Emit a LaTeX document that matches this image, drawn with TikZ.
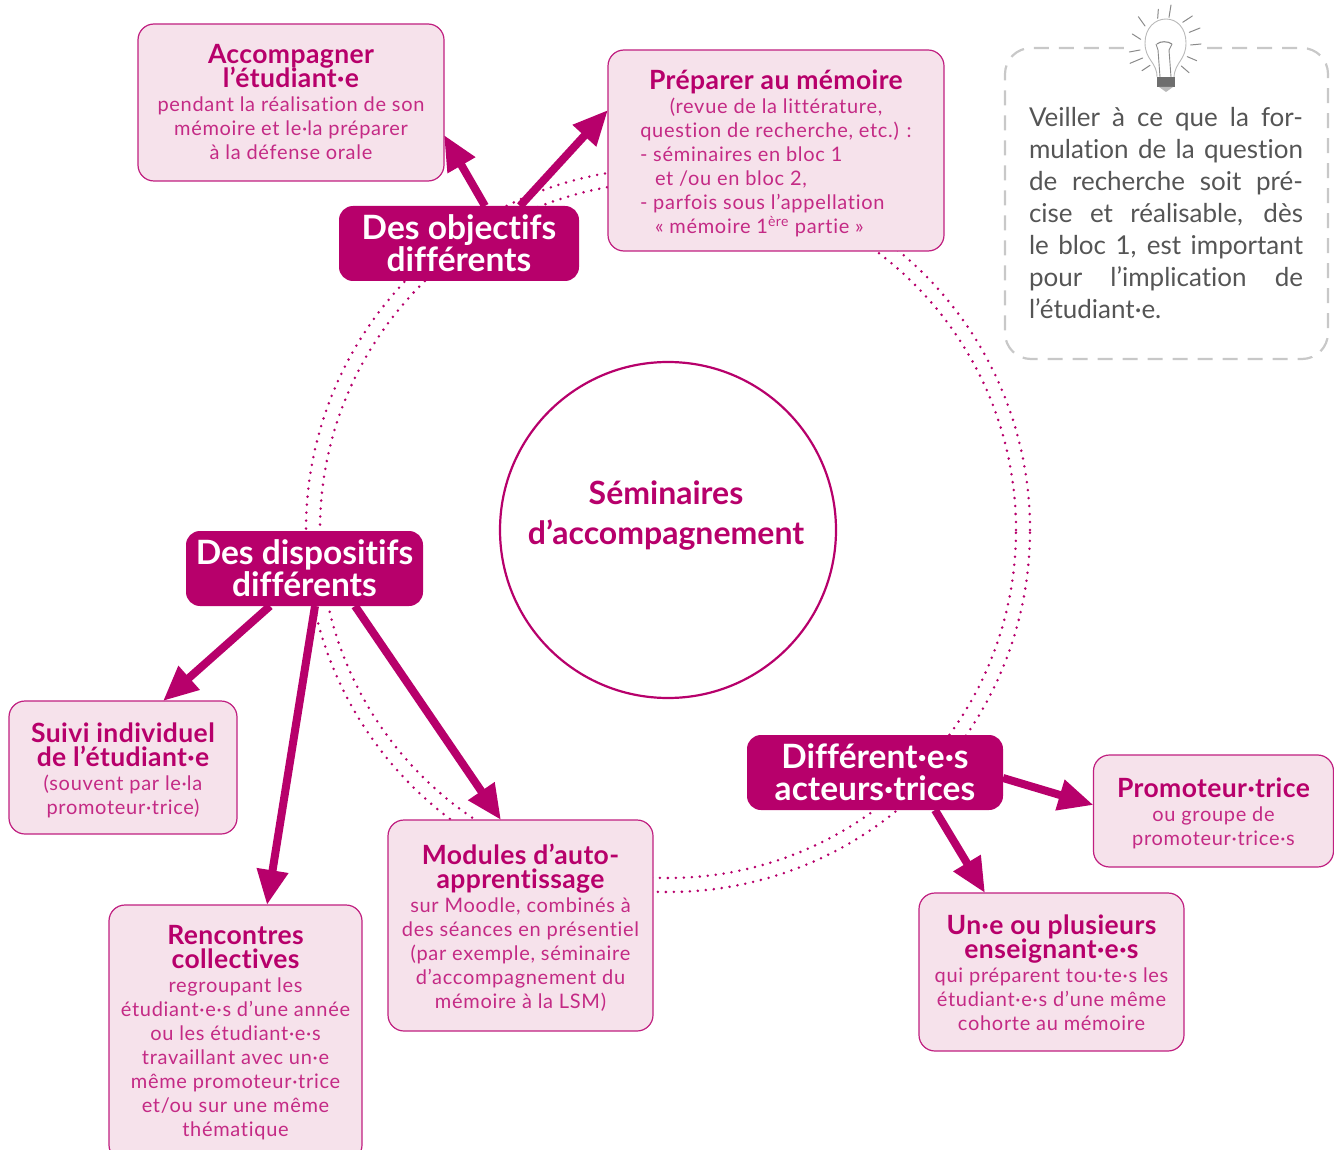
\documentclass[tikz,border=0pt]{standalone}
\usepackage{fontspec}
\setmainfont[Ligatures=NoCommon]{Lato}
\newfontfamily\bodyf[LetterSpace=3.5,Ligatures=NoCommon]{Lato}
\newfontfamily\titlef[LetterSpace=1.5,Ligatures=NoCommon]{Lato}
\usetikzlibrary{arrows.meta,calc}
\definecolor{mag}{HTML}{B7006B}
\definecolor{pale}{HTML}{F6E2EB}
\definecolor{boxedge}{HTML}{C01F80}
\definecolor{txt}{HTML}{C42A85}
\definecolor{ttlcol}{HTML}{B7006B}
\definecolor{notecol}{HTML}{555555}
\definecolor{notedash}{HTML}{C8C8C8}
\definecolor{bulbcol}{HTML}{8A8A8A}
\newcommand{\ttl}[1]{{\titlef\fontsize{26.5}{24}\bfseries\selectfont\color{ttlcol}#1}}
\newcommand{\tightlines}{\lineskiplimit=-30pt\relax}
\newcommand{\pushdown}[1]{\rule{0pt}{\dimexpr 20pt+2\dimexpr #1pt\relax\relax}}
\newcommand{\jline}[1]{\leavevmode\hbox to 274pt{\spaceskip=5pt plus 1fil\relax #1}}
\tikzset{
  x=1pt,y=-1pt,
  infobox/.style={draw=boxedge,fill=pale,line width=1.2pt,rounded corners=16pt,inner sep=0pt,outer sep=0pt,
    align=center,text=txt,font=\tightlines\bodyf\fontsize{20}{24}\selectfont},
  headbox/.style={fill=mag,rounded corners=14pt,inner sep=0pt,outer sep=0pt,align=center,text=white,
    font=\tightlines\fontsize{33.5}{32}\bfseries\selectfont},
  linkarrow/.style={draw=mag,line width=8pt,-{Triangle[length=35pt,width=30pt]}},
  ringline/.style={draw=mag,line width=2.8pt,line cap=round,dash pattern=on 0pt off 8pt},
  rayline/.style={draw=bulbcol,line width=1pt,line cap=round},
  notetext/.style={inner sep=0pt,outer sep=0pt,align=left,text=notecol,text width=274pt,
    font=\tightlines\fontsize{26}{32}\selectfont},
}
\begin{document}
\begin{tikzpicture}
\useasboundingbox (0,0) rectangle (1334,1150);
\clip (0,0) rectangle (1334,1150);
% rings
\draw[ringline] (668,530) circle[radius=348pt];
\draw[ringline] (668,530) circle[radius=362pt];
% central circle
\node[circle,draw=mag,line width=2.2pt,fill=white,minimum size=336pt,inner sep=0pt] (centre) at (668,530) {};
\node[align=center,text=mag,inner sep=0pt,
  font=\tightlines\fontsize{32}{40}\bfseries\selectfont] (centretitle) at (666,516) {Séminaires\\d’accompagnement};
% boxes
\node[infobox,minimum width=306pt,minimum height=157pt] (acc) at (291,102.5)
  {\ttl{Accompagner}\\\ttl{l’étudiant·e}\\pendant la réalisation de son\\mémoire et le·la préparer\\à la défense orale};
\node[infobox,minimum width=336pt,minimum height=201pt] (prep) at (776,150.5)
  {\pushdown{3}\ttl{Préparer au mémoire}\\(revue de la littérature,\\question de recherche, etc.) :\\
   \makebox[272pt][l]{- séminaires en bloc 1}\\\makebox[272pt][l]{\hspace{15pt}et /ou en bloc 2,}\\
   \makebox[272pt][l]{- parfois sous l’appellation}\\\makebox[272pt][l]{\hspace{15pt}« mémoire 1\textsuperscript{ère} partie »}};
\node[infobox,minimum width=228pt,minimum height=133pt] (suivi) at (123,767.5)
  {\pushdown{3}\ttl{Suivi individuel}\\\ttl{de l’étudiant·e}\\(souvent par le·la\\promoteur·trice)};
\node[infobox,minimum width=253pt,minimum height=256pt] (ren) at (235.5,1033)
  {\ttl{Rencontres}\\\ttl{collectives}\\regroupant les\\étudiant·e·s d’une année\\ou les étudiant·e·s\\travaillant avec un·e\\même promoteur·trice\\et/ou sur une même\\thématique};
\node[infobox,minimum width=265pt,minimum height=211pt] (mod) at (520.5,925.5)
  {\pushdown{2}\ttl{Modules d’auto-}\\\ttl{apprentissage}\\sur Moodle, combinés à\\des séances en présentiel\\(par exemple, séminaire\\d’accompagnement du\\mémoire à la LSM)};
\node[infobox,minimum width=265pt,minimum height=158pt] (un) at (1051.5,972)
  {\pushdown{1}\ttl{Un·e ou plusieurs}\\\ttl{enseignant·e·s}\\qui préparent tou·te·s les\\étudiant·e·s d’une même\\cohorte au mémoire};
\node[infobox,minimum width=240pt,minimum height=112pt] (prom) at (1213.5,811)
  {\pushdown{2}\ttl{Promoteur·trice}\\ou groupe de\\promoteur·trice·s};
\node[headbox,minimum width=240pt,minimum height=75pt] (obj) at (459,243.5) {Des objectifs\\différents};
\node[headbox,minimum width=237pt,minimum height=75pt] (disp) at (304.5,568.5) {Des dispositifs\\différents};
\node[headbox,minimum width=256pt,minimum height=75pt] (diff) at (875,772.5) {Différent·e·s\\acteurs·trices};
% connectors
\draw[linkarrow] ([xshift=26pt]obj.north) -- ([yshift=46pt]acc.south east);
\draw[linkarrow] ([xshift=61pt]obj.north) -- ([yshift=-60pt]prep.north west);
\draw[linkarrow] ([xshift=-34.5pt]disp.south) -- ([xshift=40pt]suivi.north);
\draw[linkarrow] ([xshift=10.5pt]disp.south) -- ([xshift=31.5pt]ren.north);
\draw[linkarrow] ([xshift=50.5pt]disp.south) -- ([xshift=-19.5pt]mod.north);
\draw[linkarrow] ([yshift=-5.5pt]diff.east) -- ([yshift=6pt]prom.west);
\draw[linkarrow] ([xshift=60pt]diff.south) -- ([xshift=-66.5pt]un.north);
% note
\draw[draw=notedash,line width=2.2pt,dash pattern=on 15pt off 10pt,rounded corners=26pt]
  (1207,48) -- (1328,48) -- (1328,359) -- (1005,359) -- (1005,48) -- (1125,48);
\node[notetext,anchor=north west] (notebody) at (1029,107)
  {\jline{Veiller à ce que la for-}\\\jline{mulation de la question}\\
   \jline{de recherche soit pré-}\\\jline{cise et réalisable, dès}\\
   \jline{le bloc 1, est important}\\\jline{pour l’implication de}\\l’étudiant·e.};
% bulb
\draw[draw=bulbcol!60,line width=0.9pt] (1157,77) .. controls (1157,62) and (1145,60) .. (1145,43)
  .. controls (1145,28) and (1155,19) .. (1166,19) .. controls (1177,19) and (1186,28) .. (1186,43)
  .. controls (1186,60) and (1175,62) .. (1174,77);
\draw[draw=bulbcol,line width=0.9pt] (1160,77) -- (1158,50) -- (1156,44) (1171,77) -- (1169,50) -- (1172,44);
\draw[draw=bulbcol,line width=1.1pt] (1157,44) .. controls (1160,41) and (1168,41) .. (1172,44);
\fill[bulbcol!80!black] (1157,77) rectangle (1175,87);
\fill[bulbcol!60] (1159,87) -- (1173,87) -- (1166,92) -- cycle;
\foreach \a/\b/\c/\d in {415/50/435/78,475/28/473/55,513/15/507/52,577/48/548/67,600/84/568/97,603/132/572/135,
  590/182/562/170,567/218/544/198,450/196/426/212,428/174/390/190,420/150/388/156,422/118/397/102}
  \draw[rayline] ({1000+\a/3},{\b/3}) -- ({1000+\c/3},{\d/3});
\end{tikzpicture}
\end{document}
